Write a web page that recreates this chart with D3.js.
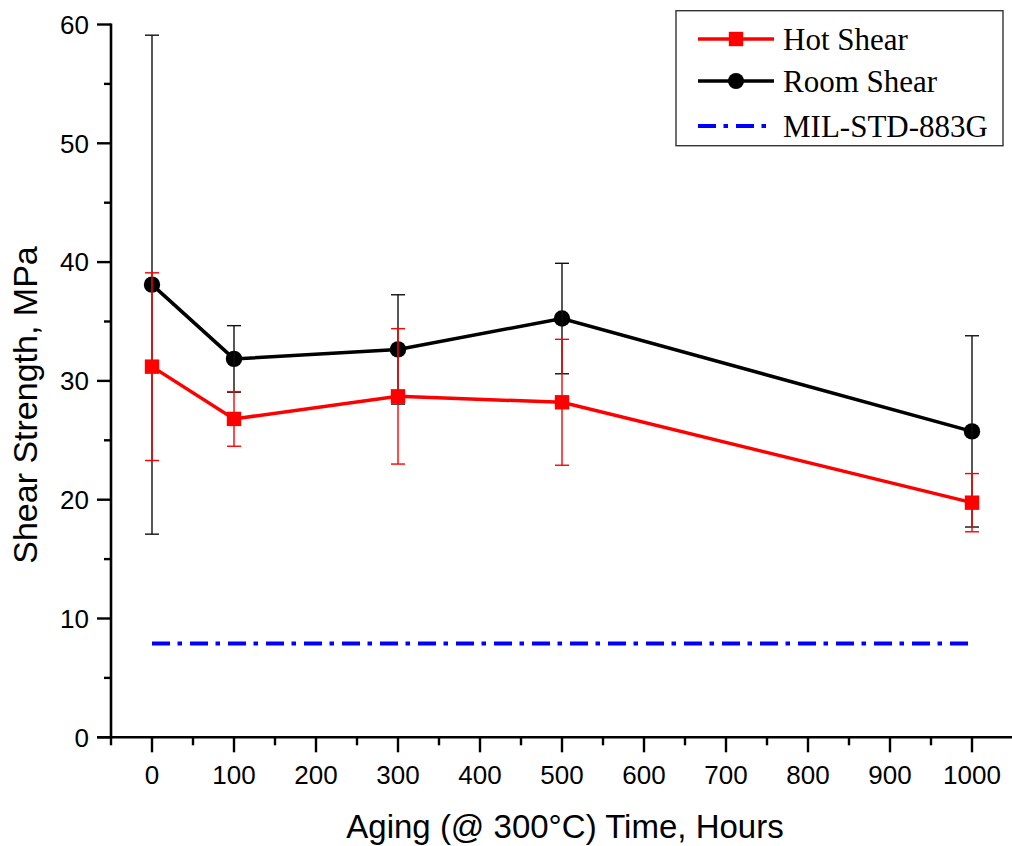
<!DOCTYPE html>
<html>
<head>
<meta charset="utf-8">
<script src="https://cdn.jsdelivr.net/npm/d3@7"></script>
<style>
  html, body { margin: 0; padding: 0; background: #fff; }
  svg { display: block; }
</style>
</head>
<body>
<svg id="chart" width="1012" height="846"></svg>
<script>
// Aging time (hours at 300 °C)
const agingHours = [0, 100, 300, 500, 1000];

// Hot shear strength, MPa (mean and error)
const hotShear = [31.2, 26.8, 28.7, 28.2, 19.75];
const hotShearErr = [7.9, 2.3, 5.7, 5.3, 2.45];

// Room-temperature shear strength, MPa (mean and error)
const roomShear = [38.1, 31.85, 32.65, 35.25, 25.75];
const roomShearErr = [21.0, 2.8, 4.6, 4.65, 8.05];

// MIL-STD-883G minimum shear requirement, MPa
const milStdLevel = 7.9;
const milStdSpan = [0, 1000];

const xTicks = [0, 100, 200, 300, 400, 500, 600, 700, 800, 900, 1000];
const xMinorTicks = [-50, 50, 150, 250, 350, 450, 550, 650, 750, 850, 950];
const yTicks = [0, 10, 20, 30, 40, 50, 60];
const yMinorTicks = [5, 15, 25, 35, 45, 55];

const legendLabels = ["Hot Shear", "Room Shear", "MIL-STD-883G"];

const svg = d3.select("#chart");
const sans = "'Liberation Sans', Arial, sans-serif";
const serif = "'Liberation Serif', 'Times New Roman', serif";

const x = d3.scaleLinear().domain([-50, 1050]).range([111, 1013]);
const y = d3.scaleLinear().domain([0, 60]).range([737.3, 24.5]);

const RED = "#ff0000";
const BLUE = "#0000ff";

// ---- axes ----
const axisG = svg.append("g");
// bottom axis line
axisG.append("line")
  .attr("x1", 97).attr("x2", 1012)
  .attr("y1", y(0)).attr("y2", y(0))
  .attr("stroke", "#000").attr("stroke-width", 2.6);
// left axis line
axisG.append("line")
  .attr("x1", x(-50)).attr("x2", x(-50))
  .attr("y1", y(60) - 1).attr("y2", y(0) + 1.3)
  .attr("stroke", "#000").attr("stroke-width", 2.6);

// x ticks
axisG.selectAll(".xt").data(xTicks).join("line")
  .attr("x1", d => x(d)).attr("x2", d => x(d))
  .attr("y1", y(0)).attr("y2", y(0) + 15)
  .attr("stroke", "#000").attr("stroke-width", 2.4);
axisG.selectAll(".xmt").data(xMinorTicks).join("line")
  .attr("x1", d => x(d)).attr("x2", d => x(d))
  .attr("y1", y(0)).attr("y2", y(0) + 8)
  .attr("stroke", "#000").attr("stroke-width", 2.4);
axisG.selectAll(".xl").data(xTicks).join("text")
  .attr("x", d => x(d)).attr("y", 784)
  .attr("text-anchor", "middle")
  .attr("font-family", sans).attr("font-size", 26)
  .text(d => d);

// y ticks
axisG.selectAll(".yt").data(yTicks).join("line")
  .attr("x1", x(-50) - 14).attr("x2", x(-50))
  .attr("y1", d => y(d)).attr("y2", d => y(d))
  .attr("stroke", "#000").attr("stroke-width", 2.4);
axisG.selectAll(".ymt").data(yMinorTicks).join("line")
  .attr("x1", x(-50) - 7).attr("x2", x(-50))
  .attr("y1", d => y(d)).attr("y2", d => y(d))
  .attr("stroke", "#000").attr("stroke-width", 2.4);
axisG.selectAll(".yl").data(yTicks).join("text")
  .attr("x", 89).attr("y", d => y(d) + 9.3)
  .attr("text-anchor", "end")
  .attr("font-family", sans).attr("font-size", 26)
  .text(d => d);

// axis titles
svg.append("text")
  .attr("x", 565).attr("y", 838)
  .attr("text-anchor", "middle")
  .attr("font-family", sans).attr("font-size", 33)
  .text("Aging (@ 300°C) Time, Hours");
svg.append("text")
  .attr("transform", "translate(37,405) rotate(-90)")
  .attr("text-anchor", "middle")
  .attr("font-family", sans).attr("font-size", 34)
  .text("Shear Strength, MPa");

// ---- MIL-STD reference line ----
svg.append("line")
  .attr("x1", x(milStdSpan[0])).attr("x2", x(milStdSpan[1]))
  .attr("y1", y(milStdLevel)).attr("y2", y(milStdLevel))
  .attr("stroke", BLUE).attr("stroke-width", 4)
  .attr("stroke-dasharray", "18,7.5,4.5,8");

// ---- series ----
const line = d3.line().x(d => x(d[0])).y(d => y(d[1]));

function errorBars(vals, errs, color) {
  const g = svg.append("g").attr("stroke", color).attr("stroke-width", 1.4).attr("fill", "none");
  agingHours.forEach((h, i) => {
    const cx = x(h), top = y(vals[i] + errs[i]), bot = y(vals[i] - errs[i]);
    g.append("line").attr("x1", cx).attr("x2", cx).attr("y1", top).attr("y2", bot);
    g.append("line").attr("x1", cx - 7).attr("x2", cx + 7).attr("y1", top).attr("y2", top);
    g.append("line").attr("x1", cx - 7).attr("x2", cx + 7).attr("y1", bot).attr("y2", bot);
  });
}

// Room shear (black, circles)
const roomPts = agingHours.map((h, i) => [h, roomShear[i]]);
svg.append("path").attr("d", line(roomPts))
  .attr("fill", "none").attr("stroke", "#000").attr("stroke-width", 3.5);
svg.selectAll(".roomMarker").data(roomPts).join("circle")
  .attr("cx", d => x(d[0])).attr("cy", d => y(d[1])).attr("r", 8.2)
  .attr("fill", "#000");
errorBars(roomShear, roomShearErr, "#111");

// Hot shear (red, squares)
errorBars(hotShear, hotShearErr, RED);
const hotPts = agingHours.map((h, i) => [h, hotShear[i]]);
svg.append("path").attr("d", line(hotPts))
  .attr("fill", "none").attr("stroke", RED).attr("stroke-width", 3.5);
svg.selectAll(".hotMarker").data(hotPts).join("rect")
  .attr("x", d => x(d[0]) - 7.2).attr("y", d => y(d[1]) - 7.2)
  .attr("width", 14.4).attr("height", 14.4)
  .attr("fill", RED);

// ---- legend ----
const lg = svg.append("g");
lg.append("rect")
  .attr("x", 676).attr("y", 10.7).attr("width", 327).attr("height", 135)
  .attr("fill", "#fff").attr("stroke", "#333").attr("stroke-width", 1.4);
const rowsY = [39, 81, 126];
// Hot Shear
lg.append("line").attr("x1", 698).attr("x2", 774).attr("y1", rowsY[0]).attr("y2", rowsY[0])
  .attr("stroke", RED).attr("stroke-width", 3.5);
lg.append("rect").attr("x", 736 - 7.2).attr("y", rowsY[0] - 7.2).attr("width", 14.4).attr("height", 14.4)
  .attr("fill", RED);
// Room Shear
lg.append("line").attr("x1", 698).attr("x2", 774).attr("y1", rowsY[1]).attr("y2", rowsY[1])
  .attr("stroke", "#000").attr("stroke-width", 3.5);
lg.append("circle").attr("cx", 736).attr("cy", rowsY[1]).attr("r", 8).attr("fill", "#000");
// MIL-STD-883G
lg.append("line").attr("x1", 698).attr("x2", 774).attr("y1", rowsY[2]).attr("y2", rowsY[2])
  .attr("stroke", BLUE).attr("stroke-width", 4)
  .attr("stroke-dasharray", "18,7.5,4.5,8");

lg.selectAll(".legText").data(legendLabels).join("text")
  .attr("x", 783).attr("y", (d, i) => rowsY[i] + 10.5)
  .attr("font-family", serif).attr("font-size", 31)
  .text(d => d);
</script>
</body>
</html>
